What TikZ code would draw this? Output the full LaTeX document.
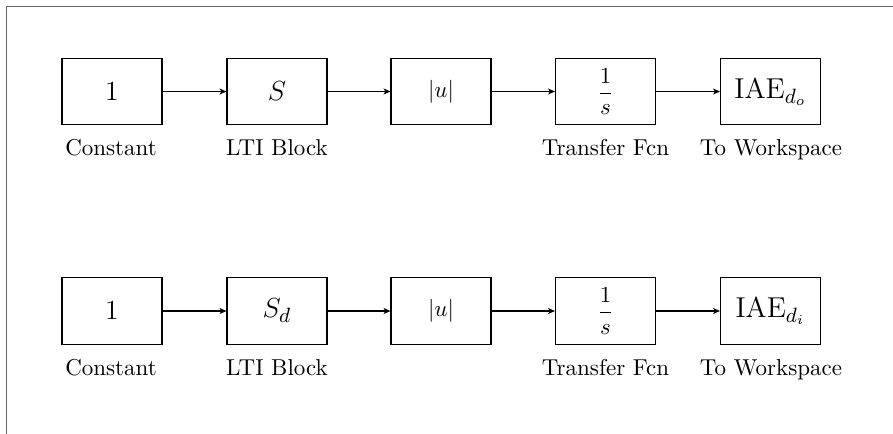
\documentclass[tikz,border=0pt]{standalone}
\usetikzlibrary{arrows.meta}
\begin{document}
\begin{tikzpicture}[x=0.4348pt,y=-0.4348pt,
  blk/.style={draw,line width=0.45pt,minimum width=43.48pt,minimum height=29.1pt,inner sep=0pt,font=\fontsize{12.5}{15}\selectfont},
  blks/.style={blk,font=\fontsize{10}{12}\selectfont},
  lbl/.style={inner sep=0pt,font=\fontsize{10}{12}\selectfont,anchor=base},
  conn/.style={line width=0.45pt,-{Stealth[length=3pt,width=2.6pt,inset=0.8pt]}},
  frame/.style={draw=black!60,line width=0.65pt}]
\useasboundingbox (0,0) rectangle (893,434);
\draw[frame] (6.5,434) -- (6.5,6.5) -- (893,6.5);
% row 1
\node[blk]  (c1) at (112,91.5) {$1$};
\node[blk]  (s1) at (277,91.5) {$S$};
\node[blks] (u1) at (441,91.5) {$|u|$};
\node[blks] (t1) at (605.5,91.5) {$\displaystyle\frac{1}{s}$};
\node[blk]  (w1) at (770.5,91.5) {IAE$_{d_o}$};
\node[lbl] (lc1) at (111,155) {Constant};
\node[lbl] (ls1) at (277,155) {LTI Block};
\node[lbl] (lt1) at (605.5,155) {Transfer Fcn};
\node[lbl] (lw1) at (771,155) {To Workspace};
\draw[conn] (c1) -- (s1);
\draw[conn] (s1) -- (u1);
\draw[conn] (u1) -- (t1);
\draw[conn] (t1) -- (w1);
% row 2
\node[blk]  (c2) at (112,311) {$1$};
\node[blk]  (s2) at (277,311) {$S_d$};
\node[blks] (u2) at (441,311) {$|u|$};
\node[blks] (t2) at (605.5,311) {$\displaystyle\frac{1}{s}$};
\node[blk]  (w2) at (770.5,311) {IAE$_{d_i}$};
\node[lbl] (lc2) at (111,375) {Constant};
\node[lbl] (ls2) at (277,375) {LTI Block};
\node[lbl] (lt2) at (605.5,375) {Transfer Fcn};
\node[lbl] (lw2) at (771,375) {To Workspace};
\draw[conn] (c2) -- (s2);
\draw[conn] (s2) -- (u2);
\draw[conn] (u2) -- (t2);
\draw[conn] (t2) -- (w2);
\end{tikzpicture}
\end{document}
